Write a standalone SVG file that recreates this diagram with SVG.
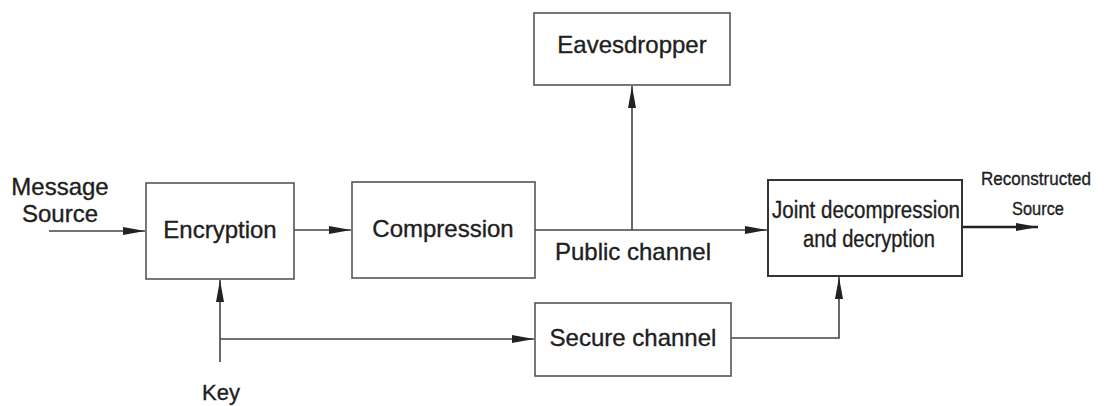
<svg xmlns="http://www.w3.org/2000/svg" width="1107" height="406" viewBox="0 0 1107 406">
  <style>
    .box { fill: #ffffff; stroke: #555555; stroke-width: 1.6; }
    .lbl { font-family: "Liberation Sans", Arial, sans-serif; font-size: 24px; fill: #1e1e1e; stroke: #1e1e1e; stroke-width: 0.35; text-anchor: middle; }
    .small { font-size: 23px; }
    .tiny { font-size: 19px; }
    .wire { fill: none; stroke: #444444; stroke-width: 1.6; }
    .thick { stroke: #222222; stroke-width: 2.6; }
  </style>
  <defs>
    <marker id="arrow" viewBox="0 0 22 10" refX="22" refY="5" markerWidth="22" markerHeight="10" markerUnits="userSpaceOnUse" orient="auto">
      <path d="M0,1 L22,5 L0,9 Z" fill="#222222"/>
    </marker>
  </defs>

  <rect width="1107" height="406" fill="#ffffff"/>

  <!-- Connectors -->
  <g id="connectors">
    <!-- message into encryption -->
    <line class="wire" x1="49" y1="231" x2="145" y2="231" marker-end="url(#arrow)"/>
    <!-- encryption to compression -->
    <line class="wire" x1="294" y1="230" x2="351" y2="230" marker-end="url(#arrow)"/>
    <!-- public channel to joint decoder -->
    <line class="wire" x1="535" y1="230" x2="767" y2="230" marker-end="url(#arrow)"/>
    <!-- tap to eavesdropper -->
    <line class="wire" x1="632" y1="230" x2="632" y2="86" marker-end="url(#arrow)"/>
    <!-- key into encryption -->
    <line class="wire" x1="220" y1="362" x2="220" y2="280" marker-end="url(#arrow)"/>
    <!-- key to secure channel -->
    <line class="wire" x1="220" y1="339" x2="534" y2="339" marker-end="url(#arrow)"/>
    <!-- secure channel to joint decoder -->
    <polyline class="wire" points="731,338 839,338 839,277" marker-end="url(#arrow)"/>
    <!-- reconstructed output -->
    <line class="wire thick" x1="962" y1="227" x2="1038" y2="227" marker-end="url(#arrow)"/>
  </g>

  <!-- Nodes -->
  <g id="encryption">
    <rect class="box" x="146" y="183" width="148" height="96"/>
    <text class="lbl" x="220" y="238">Encryption</text>
  </g>
  <g id="compression">
    <rect class="box" x="352" y="182" width="183" height="96"/>
    <text class="lbl" x="443" y="237">Compression</text>
  </g>
  <g id="eavesdropper">
    <rect class="box" x="534" y="13" width="196" height="72"/>
    <text class="lbl" x="632" y="53">Eavesdropper</text>
  </g>
  <g id="secure-channel">
    <rect class="box" x="535" y="303" width="196" height="73"/>
    <text class="lbl" x="633" y="346">Secure channel</text>
  </g>
  <g id="joint-decoder">
    <rect class="box" x="768" y="180" width="194" height="96" style="stroke:#333333;stroke-width:2"/>
    <text class="lbl small" x="866" y="218" textLength="188" lengthAdjust="spacingAndGlyphs">Joint decompression</text>
    <text class="lbl small" x="869" y="247" textLength="132" lengthAdjust="spacingAndGlyphs">and decryption</text>
  </g>

  <!-- Free labels -->
  <g id="labels">
    <text class="lbl" x="60" y="195">Message</text>
    <text class="lbl" x="60" y="222">Source</text>
    <text class="lbl" x="633" y="260">Public channel</text>
    <text class="lbl tiny" x="1036" y="185" textLength="110" lengthAdjust="spacingAndGlyphs">Reconstructed</text>
    <text class="lbl tiny" x="1038" y="215" textLength="52" lengthAdjust="spacingAndGlyphs">Source</text>
    <text class="lbl" x="221" y="400" style="font-size:22px">Key</text>
  </g>
</svg>
